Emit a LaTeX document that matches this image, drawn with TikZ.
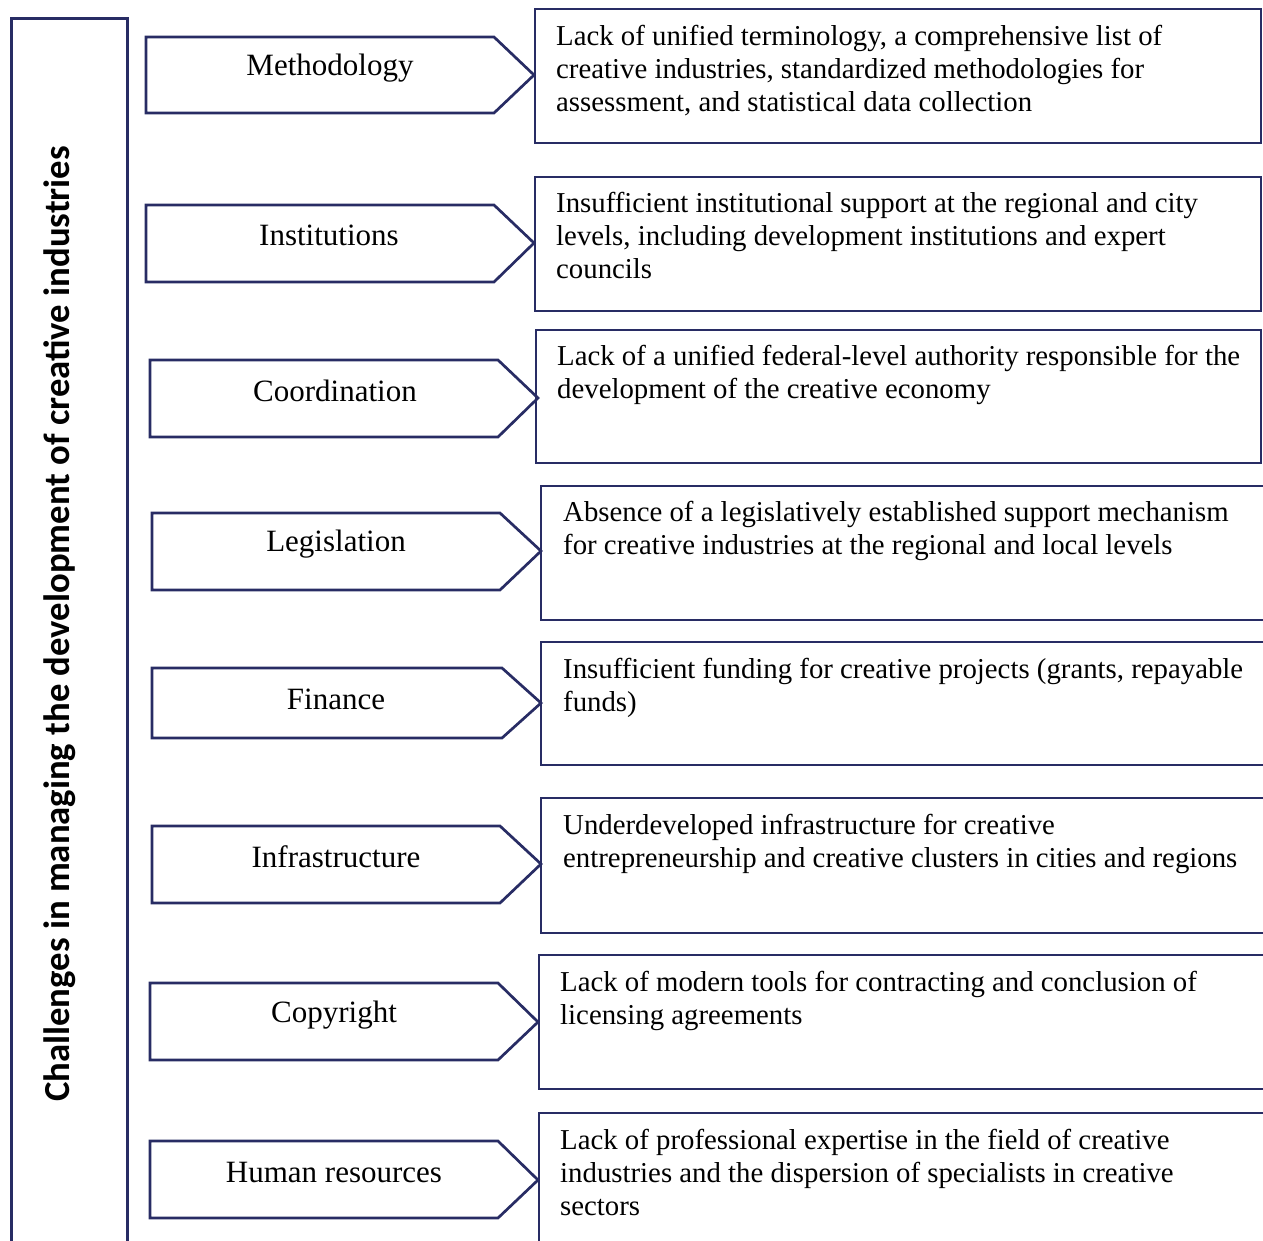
\documentclass[tikz,border=0pt]{standalone}
\usepackage{fontspec}
\setmainfont{Liberation Serif}
\newfontfamily\titlefont{Carlito}
\definecolor{navy}{RGB}{40,44,100}
\begin{document}
\begin{tikzpicture}[x=1pt,y=-1pt,
  frame/.style={draw=navy, line width=2.7pt},
  boxed/.style={frame, rectangle, anchor=north west, inner sep=0pt, outer sep=0pt, minimum height=134pt},
  lbl/.style={font=\fontsize{31}{36}\selectfont, inner sep=0pt},
  desc/.style={font=\fontsize{28.8}{33}\selectfont, inner sep=0pt, anchor=north west, align=left},
]
\useasboundingbox (0,0) rectangle (1263,1241);
\clip (0,0) rectangle (1263,1241);

% left title box
\node[frame, rectangle, anchor=north west, minimum width=116pt, minimum height=1260pt, inner sep=0pt] (side) at (10,17) {};
\node[rotate=90, inner sep=0pt, font=\titlefont\bfseries\fontsize{36.7}{42}\selectfont] (title) at (60,624) {Challenges in managing the development of creative industries};

% description boxes
\node[boxed, minimum width=726pt] (b1) at (535,9) {};
\node[boxed, minimum width=726pt] (b2) at (535,177) {};
\node[boxed, minimum width=725pt, minimum height=133pt] (b3) at (536,330) {};
\node[boxed, minimum width=740pt] (b4) at (541,486) {};
\node[boxed, minimum width=740pt, minimum height=123pt] (b5) at (541,642) {};
\node[boxed, minimum width=740pt, minimum height=135pt] (b6) at (541,798) {};
\node[boxed, minimum width=740pt] (b7) at (539,955) {};
\node[boxed, minimum width=740pt, minimum height=160pt] (b8) at (539,1113) {};

\node[desc] (t1) at (556,25) {Lack of unified terminology, a comprehensive list of\\creative industries, standardized methodologies for\\assessment, and statistical data collection};
\node[desc] (t2) at (556,192) {Insufficient institutional support at the regional and city\\levels, including development institutions and expert\\councils};
\node[desc] (t3) at (557,345) {Lack of a unified federal-level authority responsible for the\\development of the creative economy};
\node[desc] (t4) at (563,501) {Absence of a legislatively established support mechanism\\for creative industries at the regional and local levels};
\node[desc] (t5) at (563,658) {Insufficient funding for creative projects (grants, repayable\\funds)};
\node[desc] (t6) at (563,814) {Underdeveloped infrastructure for creative\\entrepreneurship and creative clusters in cities and regions};
\node[desc] (t7) at (560,971) {Lack of modern tools for contracting and conclusion of\\licensing agreements};
\node[desc] (t8) at (560,1129) {Lack of professional expertise in the field of creative\\industries and the dispersion of specialists in creative\\sectors};

% arrow shapes
\draw[frame] (146,37) -- (494,37) -- (534,75) -- (494,113) -- (146,113) -- cycle;
\node[lbl] (a1) at (330,68) {Methodology};
\draw[frame] (146,205) -- (494,205) -- (534,243) -- (494,282) -- (146,282) -- cycle;
\node[lbl] (a2) at (329,235) {Institutions};
\draw[frame] (150,360) -- (498,360) -- (538,398) -- (498,437) -- (150,437) -- cycle;
\node[lbl] (a3) at (335,391) {Coordination};
\draw[frame] (152,513) -- (500,513) -- (541,551) -- (500,590) -- (152,590) -- cycle;
\node[lbl] (a4) at (336,544) {Legislation};
\draw[frame] (152,668) -- (502,668) -- (541,703) -- (502,738) -- (152,738) -- cycle;
\node[lbl] (a5) at (336,699) {Finance};
\draw[frame] (152,826) -- (500,826) -- (541,864) -- (500,903) -- (152,903) -- cycle;
\node[lbl] (a6) at (336,857) {Infrastructure};
\draw[frame] (150,983) -- (498,983) -- (538,1022) -- (498,1060) -- (150,1060) -- cycle;
\node[lbl] (a7) at (334,1015) {Copyright};
\draw[frame] (150,1141) -- (498,1141) -- (538,1180) -- (498,1218) -- (150,1218) -- cycle;
\node[lbl] (a8) at (334,1172) {Human resources};
\end{tikzpicture}
\end{document}
